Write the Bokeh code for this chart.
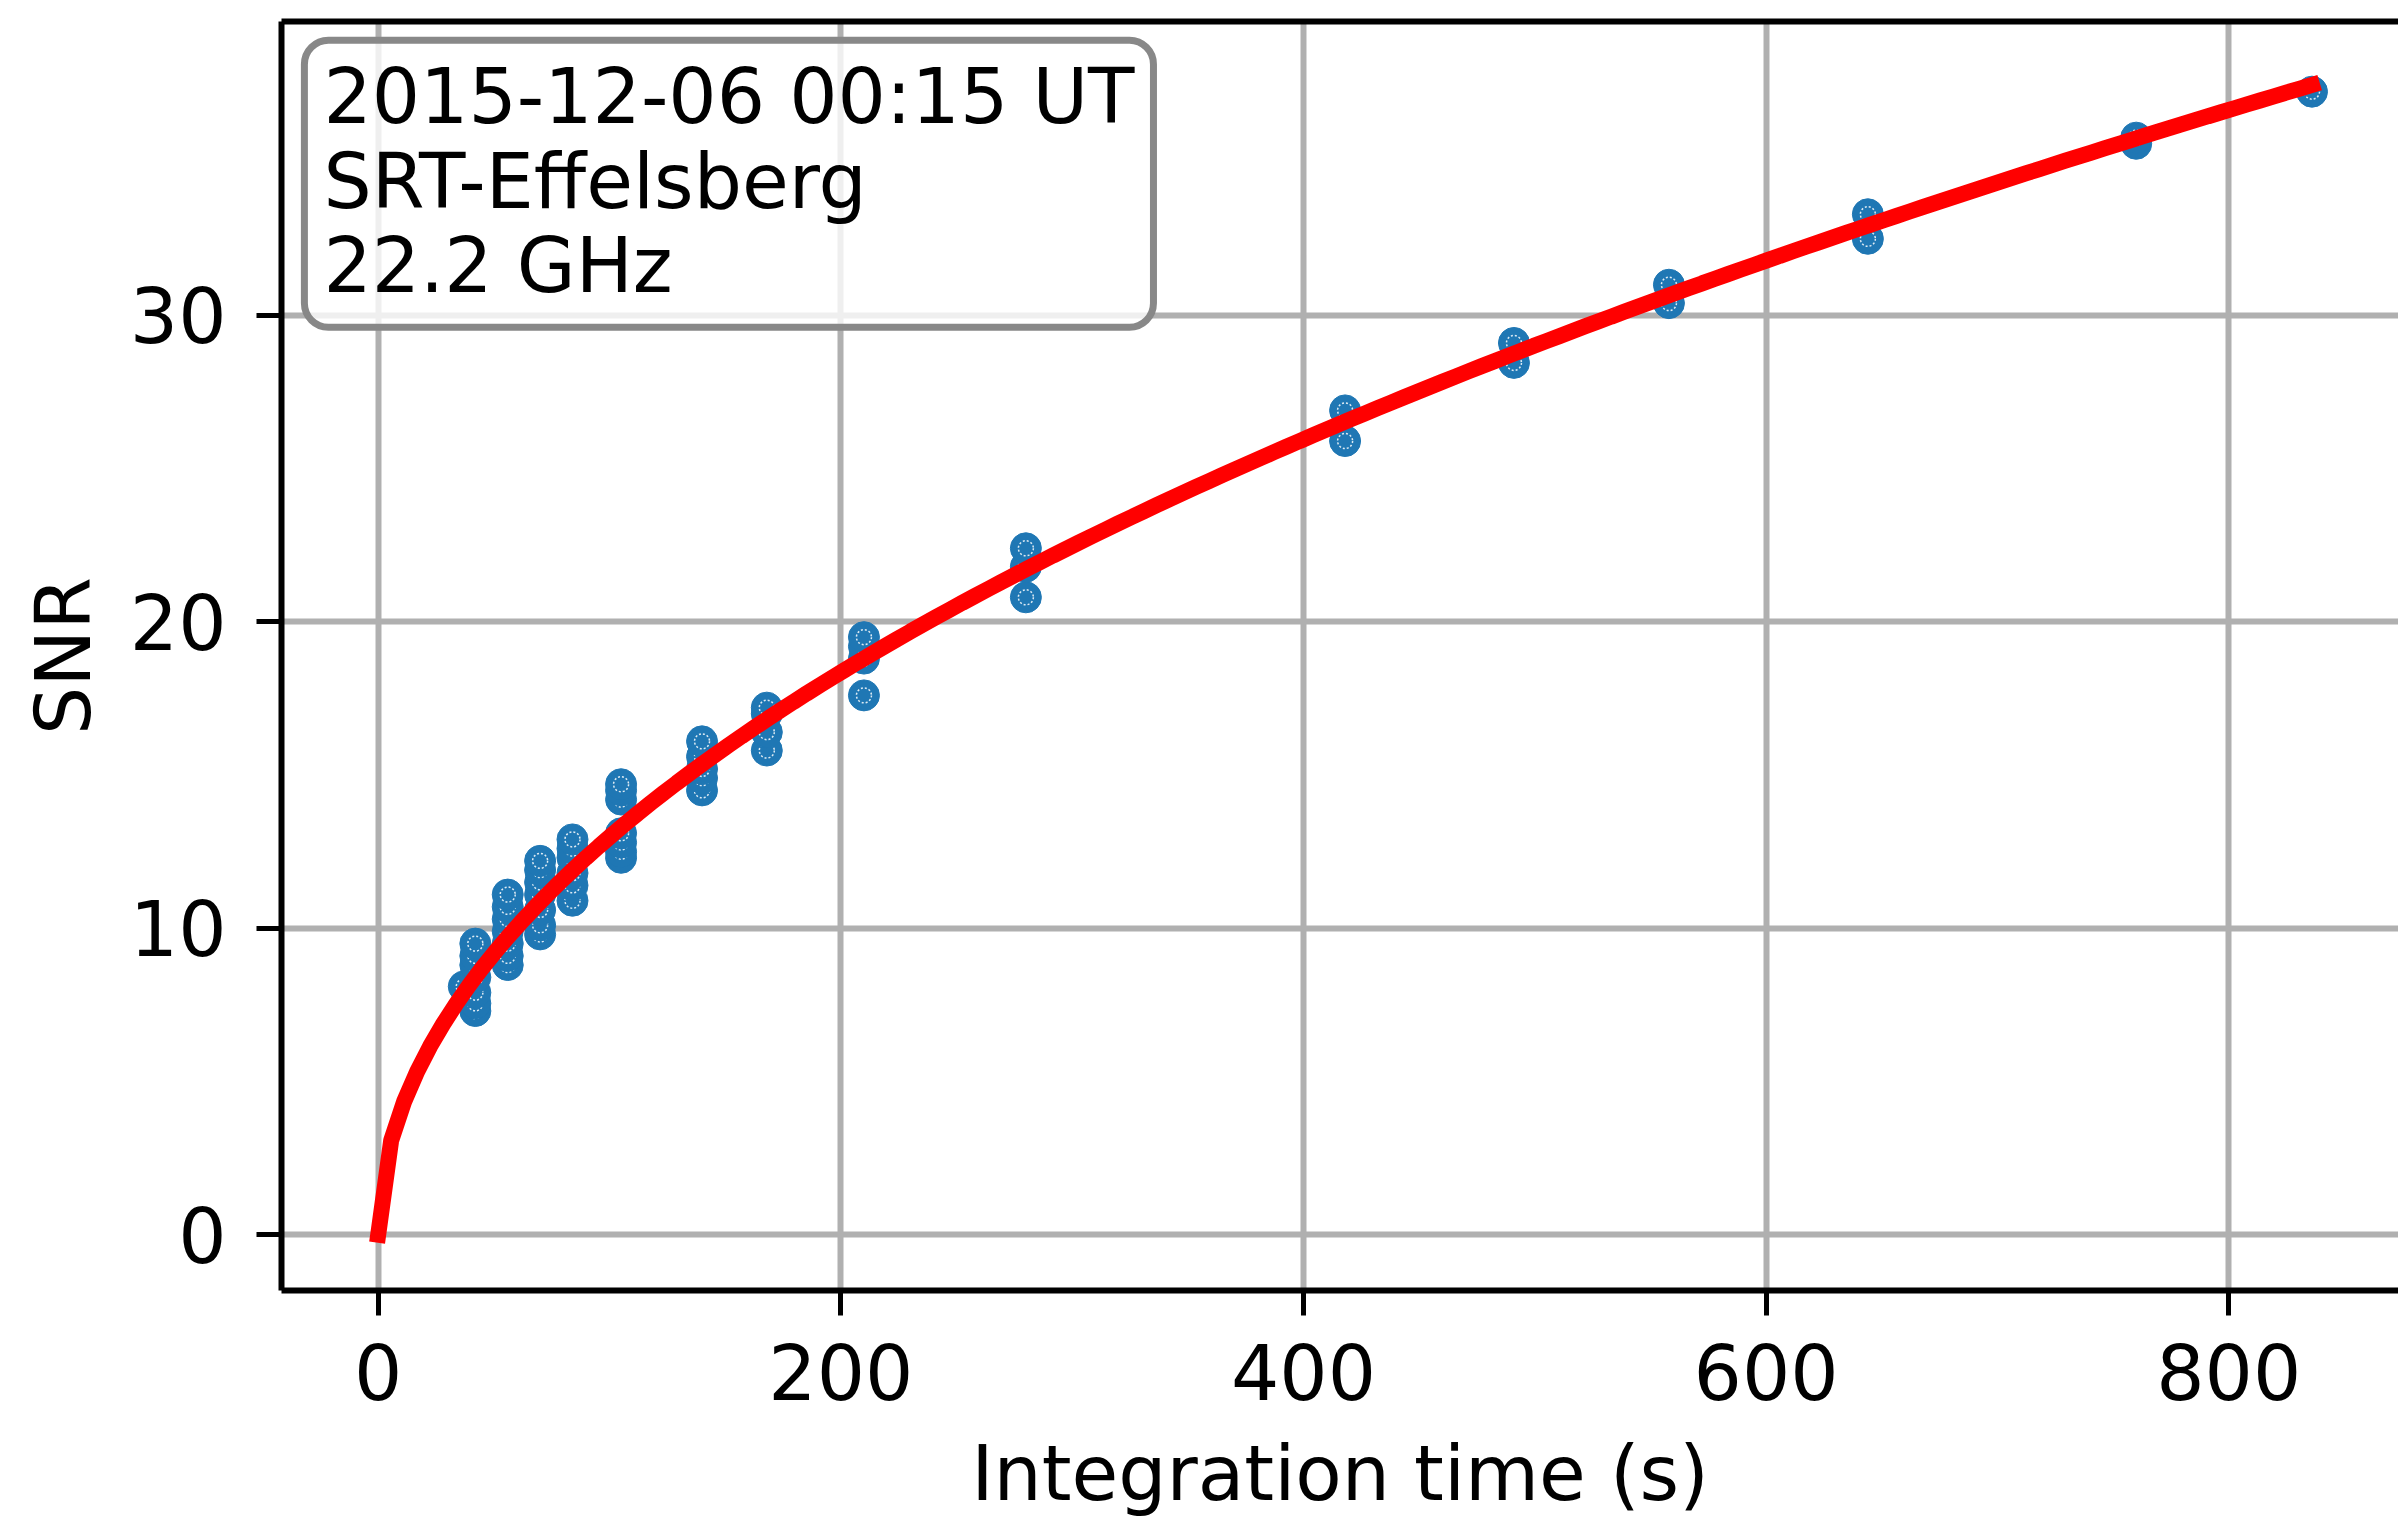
import numpy as np
from bokeh.plotting import figure
from bokeh.models import LinearAxis, SingleIntervalTicker, FixedTicker, Label, Range1d
from bokeh.embed import file_html
from bokeh.resources import INLINE

# ---- data ----
int_time = [37, 42, 42, 42, 42, 42, 42, 42,
            56, 56, 56, 56, 56, 56, 56,
            70, 70, 70, 70, 70, 70, 70,
            84, 84, 84, 84, 84, 84,
            105, 105, 105, 105, 105, 105, 105,
            140, 140, 140, 140, 140,
            168, 168, 168, 168,
            210, 210, 210, 210,
            280, 280, 280,
            418, 418,
            491, 491,
            558, 558,
            644, 644,
            760, 760,
            836]
snr = [8.1, 7.3, 7.55, 7.9, 8.4, 8.8, 9.1, 9.5,
       8.8, 9.1, 9.5, 9.9, 10.3, 10.7, 11.1,
       9.8, 10.1, 10.6, 11.1, 11.5, 11.9, 12.2,
       10.9, 11.4, 11.8, 12.3, 12.6, 12.9,
       12.3, 12.5, 12.8, 13.1, 14.2, 14.5, 14.7,
       14.5, 14.9, 15.2, 15.6, 16.1,
       15.8, 16.4, 17.0, 17.2,
       17.6, 18.8, 19.2, 19.5,
       20.8, 21.8, 22.4,
       25.9, 26.9,
       28.45, 29.1,
       30.4, 31.0,
       32.5, 33.3,
       35.6, 35.8,
       37.3]
x_ticks_interval = 200
y_ticks_interval = 10
info_lines = ["2015-12-06 00:15 UT", "SRT-Effelsberg", "22.2 GHz"]

# least-squares fit SNR = a*sqrt(t) from the points
t_arr = np.array(int_time, dtype=float)
s_arr = np.array(snr, dtype=float)
a_fit = float(np.sum(s_arr * np.sqrt(t_arr)) / np.sum(t_arr))
t_fit = np.linspace(0, max(int_time), 150)
s_fit = a_fit * np.sqrt(t_fit)

FONT = "DejaVu Sans"
FS = "76px"

p = figure(width=2398, height=1521,
           x_range=Range1d(-41.8, 873.4), y_range=Range1d(-1.82, 39.59),
           output_backend="svg", toolbar_location=None,
           min_border_left=281, min_border_right=0,
           min_border_top=21, min_border_bottom=231,
           outline_line_color=None, background_fill_color="white",
           border_fill_color="white")

p.xaxis.ticker = SingleIntervalTicker(interval=x_ticks_interval, num_minor_ticks=0)
p.yaxis.ticker = SingleIntervalTicker(interval=y_ticks_interval, num_minor_ticks=0)
p.xaxis.axis_label = "Integration time (s)"
p.yaxis.axis_label = "SNR"

for ax in (p.xaxis[0], p.yaxis[0]):
    ax.axis_line_width = 6
    ax.axis_line_color = "black"
    ax.major_tick_out = 25
    ax.major_tick_in = 0
    ax.major_tick_line_width = 5
    ax.major_tick_line_color = "black"
    ax.minor_tick_line_color = None
    ax.major_label_text_font = FONT
    ax.major_label_text_font_size = FS
    ax.major_label_text_color = "black"
    ax.axis_label_text_font = FONT
    ax.axis_label_text_font_size = FS
    ax.axis_label_text_font_style = "normal"
    ax.axis_label_text_color = "black"

p.xaxis.major_label_standoff = 28
p.xaxis.axis_label_standoff = 26
p.yaxis.major_label_standoff = 30
p.yaxis.axis_label_standoff = 19

top_axis = LinearAxis(ticker=FixedTicker(ticks=[]), axis_line_width=6,
                      axis_line_color="black", major_tick_line_color=None,
                      minor_tick_line_color=None, major_label_text_font_size="0px")
p.add_layout(top_axis, "above")

p.grid.grid_line_color = "#b0b0b0"
p.grid.grid_line_width = 6

# points: each drawn with its inner dashed ring, in order
for xi, yi in zip(int_time, snr):
    p.scatter(x=[xi], y=[yi], size=31, marker="circle",
              fill_color="#1f77b4", line_color="#1f77b4", line_width=1)
    p.scatter(x=[xi], y=[yi], size=15, marker="circle",
              fill_color=None, line_color="white", line_width=1.5,
              line_dash="2 2", line_alpha=0.85)

p.line(t_fit, s_fit, line_color="red", line_width=16, line_cap="square")

info = Label(x=-31.9, y=38.98, text="\n".join(info_lines),
             text_font=FONT, text_font_size=FS, text_color="black",
             text_align="left", text_baseline="top", text_line_height=0.95,
             background_fill_color="white", background_fill_alpha=0.8,
             border_line_color="#888888", border_line_width=7,
             padding=(19, 19, 12, 17), border_radius=24)
p.add_layout(info)

open("out.html", "w").write(file_html(p, INLINE))
